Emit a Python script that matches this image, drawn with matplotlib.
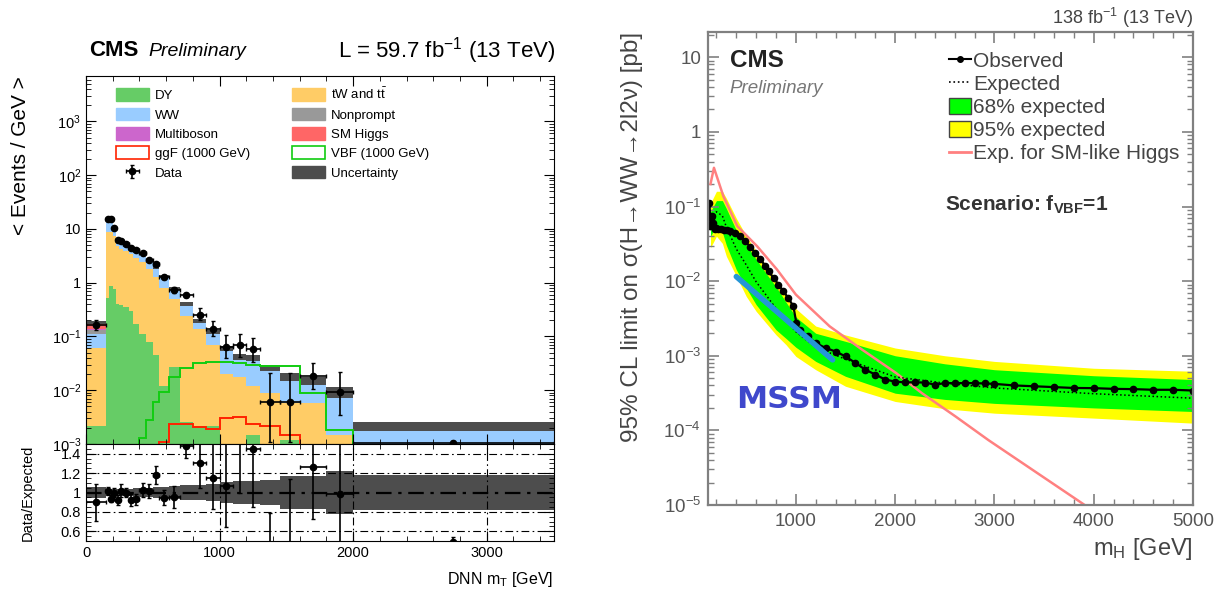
import numpy as np
import matplotlib
matplotlib.use('Agg')
import matplotlib.pyplot as plt
from matplotlib.ticker import LogLocator, MultipleLocator, FuncFormatter, NullFormatter
from matplotlib.patches import Patch
from matplotlib.lines import Line2D

plt.rcParams['font.family'] = ['Liberation Sans', 'DejaVu Sans']
plt.rcParams['mathtext.fontset'] = 'custom'
plt.rcParams['mathtext.rm'] = 'Liberation Sans'
plt.rcParams['mathtext.it'] = 'Liberation Sans:italic'
plt.rcParams['mathtext.bf'] = 'Liberation Sans:bold'
plt.rcParams['mathtext.default'] = 'regular'

# ---------------- left panel: DNN mT distribution (events / GeV) ----------------
edges = [0, 150, 175, 200, 225, 250, 275, 320, 355, 400, 450, 500, 550, 625, 700,
         800, 900, 1000, 1100, 1200, 1300, 1450, 1600, 1800, 2000, 3500]
dy = [0.0022, 0.52, 0.86, 0.75, 0.40, 0.38, 0.36, 0.30, 0.17, 0.11, 0.08, 0.046, 0.012,
      0.0275, 0.0026, 0.0022, 0.0022, 0.0003, 0.0004, 0.00145, 0.0003, 0.00117, 0.0003,
      0.0002, 0.0001]
top = [0.058, 8.4, 8.0, 6.6, 4.4, 3.9, 3.5, 3.1, 2.75, 2.3, 1.75, 1.25, 0.8, 0.46, 0.235,
       0.135, 0.068, 0.02, 0.0175, 0.0106, 0.0084, 0.0045, 0.0054, 0.00125, 0.0004]
ww = [0.05, 4.4, 5.6, 2.6, 1.5, 1.38, 1.15, 1.33, 1.25, 0.89, 0.75, 0.55, 0.49, 0.27, 0.155,
      0.053, 0.047, 0.038, 0.022, 0.026, 0.016, 0.0115, 0.0083, 0.0073, 0.0015]
nonprompt = [0.02, 0.6, 0.7, 0.35, 0.2, 0.18, 0.15, 0.13, 0.1, 0.08, 0.06, 0.045, 0.03, 0.018,
             0.01, 0.004, 0.003, 0.002, 0.0015, 0.0015, 0.001, 0.0006, 0.0005, 0.0003, 0.0001]
multiboson = [0.008, 0.4, 0.45, 0.15, 0.05, 0.03, 0.02, 0.02, 0.015, 0.012, 0.01, 0.008, 0.006,
              0.004, 0.002, 0.001, 0.0008, 0.0006, 0.0005, 0.0004, 0.0003, 0.0002, 0.0002,
              0.0001, 0.00003]
smhiggs = [0.045, 0.6, 0.6, 0.15, 0.05, 0.03, 0.02, 0.02, 0.01, 0.008, 0.005, 0.003, 0.002,
           0.001, 0.0005, 0.0002, 0.0001, 0.0001, 0.0001, 0.0001, 0.0001, 0.0001, 0.0001,
           0.0001, 0.00001]
ggf_1000 = [1e-5] * 12 + [0.0011, 0.0024, 0.0024, 0.0021, 0.0019, 0.003, 0.0032, 0.0024,
                          0.0022, 0.00146, 0.0006, 0.0004, 1e-5]
vbf_1000 = [1e-5] * 9 + [0.0013, 0.0028, 0.0061, 0.0094, 0.018, 0.0256, 0.0317, 0.034, 0.034,
                         0.032, 0.0295, 0.028, 0.028, 0.0087, 0.0018, 1e-5]
rel_unc = [0.06, 0.04, 0.04, 0.04, 0.04, 0.04, 0.04, 0.04, 0.045, 0.05, 0.05, 0.06, 0.06,
           0.07, 0.08, 0.08, 0.09, 0.11, 0.12, 0.12, 0.13, 0.17, 0.17, 0.22, 0.18]
data = [0.165, 15.2, 15.2, 10.6, 6.1, 6.0, 5.2, 4.5, 4.0, 3.5, 2.7, 2.25, 1.27, 0.745, 0.60,
        0.254, 0.139, 0.065, 0.068, 0.058, 0.0061, 0.0061, 0.0187, 0.0091, 0.00105]
data_up = [0.035, 0.6, 0.6, 0.5, 0.35, 0.4, 0.25, 0.3, 0.25, 0.25, 0.2, 0.18, 0.1, 0.09, 0.05,
           0.084, 0.057, 0.042, 0.042, 0.035, 0.0145, 0.0145, 0.013, 0.0124, 0.0001]
data_dn = [0.035, 0.6, 0.6, 0.5, 0.35, 0.4, 0.25, 0.3, 0.25, 0.25, 0.2, 0.18, 0.1, 0.09, 0.05,
           0.049, 0.039, 0.026, 0.026, 0.024, 0.005, 0.005, 0.008, 0.0057, 0.0001]

# ---------------- right panel: limits vs m_H ----------------
band_mass = [140, 200, 260, 300, 400, 500, 600, 700, 800, 900, 1000, 1200, 1500, 2000, 2500,
             3000, 4000, 5000]
exp_95_hi = [0.11, 0.16, 0.16, 0.129, 0.0697, 0.0404, 0.0251, 0.0163, 0.0106, 0.0068, 0.00428,
             0.0025, 0.0019, 0.00127, 0.001, 8.4e-4, 6.8e-4, 6.2e-4]
exp_68_hi = [0.085, 0.12, 0.12, 0.094, 0.048, 0.031, 0.0196, 0.0127, 0.0084, 0.00525, 0.0033,
             0.0020, 0.00156, 0.0010, 7.8e-4, 6.5e-4, 5.4e-4, 4.8e-4]
exp_median = [0.06, 0.085, 0.075, 0.053, 0.027, 0.0165, 0.0098, 0.0065, 0.0043, 0.003, 0.0021,
              0.0013, 9.0e-4, 5.2e-4, 4.3e-4, 3.7e-4, 3.1e-4, 2.7e-4]
exp_68_lo = [0.04, 0.055, 0.045, 0.0303, 0.01426, 0.0081, 0.00484, 0.00328, 0.00223, 0.00171,
             0.0013, 8.4e-4, 5.3e-4, 3.15e-4, 2.6e-4, 2.3e-4, 2.0e-4, 1.79e-4]
exp_95_lo = [0.028, 0.04, 0.032, 0.0215, 0.0117, 0.00625, 0.00394, 0.00274, 0.00191, 0.00141,
             9.8e-4, 6.5e-4, 3.9e-4, 2.44e-4, 1.95e-4, 1.7e-4, 1.46e-4, 1.25e-4]
obs_mass = [130, 140, 150, 160, 170, 185, 200, 220, 250, 280, 310, 340, 390, 440, 490, 540,
            590, 640, 690, 725, 775, 825, 875, 925, 975, 1005, 1040, 1120, 1200, 1300, 1400,
            1500, 1600, 1700, 1800, 1900, 2000, 2100, 2200, 2300, 2400, 2500, 2600, 2700,
            2800, 2900, 3000, 3200, 3400, 3600, 3800, 4000, 4200, 4400, 4600, 4800, 5000]
obs_limit = [0.11, 0.055, 0.07, 0.075, 0.06, 0.05, 0.052, 0.05, 0.05, 0.049, 0.048, 0.0467,
             0.0435, 0.040, 0.0342, 0.0288, 0.0239, 0.0199, 0.0161, 0.0136, 0.011, 0.009,
             0.0073, 0.0059, 0.0046, 0.00274, 0.00223, 0.00182, 0.00148, 0.00127, 0.00114,
             9.8e-4, 8.0e-4, 6.5e-4, 5.6e-4, 4.8e-4, 4.5e-4, 4.4e-4, 4.4e-4, 4.38e-4, 4.1e-4,
             4.3e-4, 4.3e-4, 4.3e-4, 4.3e-4, 4.25e-4, 4.2e-4, 4.0e-4, 3.9e-4, 3.8e-4, 3.7e-4,
             3.68e-4, 3.6e-4, 3.57e-4, 3.5e-4, 3.5e-4, 3.42e-4]
sm_mass = [140, 175, 270, 410, 610, 810, 1000, 1340, 1670, 2010, 2270, 2610, 2940, 3890, 4000]
sm_limit = [0.2, 0.33, 0.137, 0.0545, 0.0293, 0.0143, 0.0066, 0.00248, 0.0012, 5.86e-4,
            3.15e-4, 1.53e-4, 7.4e-5, 1.04e-5, 8.2e-6]
mssm_mass = [400, 1370]
mssm_limit = [0.0115, 0.00088]


def root_log(v, pos):
    e = int(round(np.log10(v)))
    if abs(v - 10.0 ** e) > 1e-6 * 10.0 ** e:
        return ''
    if e == 0:
        return '1'
    if e == 1:
        return '10'
    return r'$10^{%d}$' % e


fig = plt.figure(figsize=(12.22, 5.90), dpi=100)
W, H = 1222.0, 590.0

# ---------- left: main panel ----------
axm = fig.add_axes([86 / W, 1 - 444 / H, 467.5 / W, 368 / H])
axr = fig.add_axes([86 / W, 1 - 541 / H, 467.5 / W, 97 / H])

e = np.array(edges, dtype=float)
centers = 0.5 * (e[1:] + e[:-1])
halfw = 0.5 * np.diff(e)

layers = [(dy, '#66cc66'), (top, '#ffcc66'), (ww, '#99ccff'), (nonprompt, '#999999'),
          (multiboson, '#cc66cc'), (smhiggs, '#ff6666')]
base = np.full(len(dy), 1e-6)
for vals, col in layers:
    axm.stairs(base + np.array(vals), e, baseline=base, fill=True, color=col, lw=0)
    base = base + np.array(vals)
total = base
unc = np.array(rel_unc)
axm.stairs(total * (1 + unc), e, baseline=total * (1 - unc), fill=True, color='#4d4d4d', lw=0)
axm.stairs(ggf_1000, e, baseline=None, color='#ff2200', lw=1.4)
axm.stairs(vbf_1000, e, baseline=None, color='#11cc11', lw=1.4)
dat = axm.errorbar(centers, data, xerr=halfw, yerr=[data_dn, data_up], fmt='o', color='k',
                   ms=4.5, elinewidth=1.2, capsize=1.5, zorder=5)

axm.set_yscale('log')
axm.set_xlim(0, 3500)
axm.set_ylim(1e-3, 7e3)
axm.yaxis.set_major_locator(LogLocator(base=10, numticks=20))
axm.yaxis.set_minor_locator(LogLocator(base=10, subs=np.arange(2, 10), numticks=20))
axm.yaxis.set_major_formatter(FuncFormatter(root_log))
axm.yaxis.set_minor_formatter(NullFormatter())
axm.xaxis.set_major_locator(MultipleLocator(1000))
axm.xaxis.set_minor_locator(MultipleLocator(200))
axm.tick_params(which='both', direction='in', top=True, right=True, labelbottom=False,
                labelsize=10.5)
axm.tick_params(which='major', length=7)
axm.tick_params(which='minor', length=3.5)
axm.set_ylabel('< Events / GeV >', fontsize=15, loc='top')
axm.yaxis.set_label_coords(-0.12, 1.0)

handles = [Patch(color='#66cc66'), Patch(color='#99ccff'), Patch(color='#cc66cc'),
           Patch(facecolor='white', edgecolor='#ff2200', lw=1.2), dat,
           Patch(color='#ffcc66'), Patch(color='#999999'), Patch(color='#ff6666'),
           Patch(facecolor='white', edgecolor='#11cc11', lw=1.2), Patch(color='#4d4d4d')]
labels = ['DY', 'WW', 'Multiboson', 'ggF (1000 GeV)', 'Data',
          r'tW and t$\bar{t}$', 'Nonprompt', 'SM Higgs', 'VBF (1000 GeV)', 'Uncertainty']
axm.legend(handles, labels, ncol=2, loc='upper left', bbox_to_anchor=(0.064, 0.971),
           frameon=False, fontsize=9.5, handlelength=2.5, handleheight=1.1,
           labelspacing=0.42, handletextpad=0.45, columnspacing=3.2, borderpad=0,
           borderaxespad=0)

fig.text(89 / W, 1 - 56 / H, 'CMS', weight='bold', fontsize=16, va='baseline')
fig.text(148 / W, 1 - 56 / H, 'Preliminary', style='italic', fontsize=14, va='baseline')
fig.text(555 / W, 1 - 57 / H, 'L = 59.7 fb$^{-1}$ (13 TeV)', ha='right', fontsize=16,
         va='baseline')

# ---------- left: ratio panel ----------
tot = np.array(total)
d = np.array(data)
axr.stairs(1 + unc, e, baseline=1 - unc, fill=True, color='#4d4d4d', lw=0)
dash = (0, (7, 3, 1.5, 3))
for yv in [0.6, 0.8, 1.2, 1.4]:
    axr.axhline(yv, color='k', lw=0.8, ls=dash, zorder=3)
axr.axhline(1.0, color='k', lw=1.6, ls=dash, zorder=3)
for xv in [1000, 2000, 3000]:
    axr.axvline(xv, color='k', lw=0.8, ls=dash, zorder=3)
axr.errorbar(centers, d / tot, xerr=halfw,
             yerr=[np.array(data_dn) / tot, np.array(data_up) / tot],
             fmt='o', color='k', ms=4.5, elinewidth=1.2, capsize=1.5, zorder=5)
axr.set_xlim(0, 3500)
axr.set_ylim(0.5, 1.5)
axr.yaxis.set_major_locator(MultipleLocator(0.2))
axr.yaxis.set_minor_locator(MultipleLocator(0.05))
axr.yaxis.set_major_formatter(FuncFormatter(lambda v, p: '%g' % round(v, 2)))
axr.xaxis.set_major_locator(MultipleLocator(1000))
axr.xaxis.set_minor_locator(MultipleLocator(200))
axr.tick_params(which='both', direction='in', top=True, right=True, labelsize=10.5)
axr.tick_params(which='major', length=7)
axr.tick_params(which='minor', length=3.5)
axr.set_ylabel('Data/Expected', fontsize=10.5)
axr.yaxis.set_label_coords(-0.11, 0.5)
axr.set_xlabel('DNN m$_T$ [GeV]', fontsize=11.5, loc='right', labelpad=7)

# ---------- right panel ----------
axl = fig.add_axes([708 / W, 1 - 505 / H, 485 / W, 473.3 / H])
axl.fill_between(band_mass, exp_95_lo, exp_95_hi, color='#ffff00', lw=0)
axl.fill_between(band_mass, exp_68_lo, exp_68_hi, color='#00ff00', lw=0)
axl.plot(sm_mass, sm_limit, color='#ff8080', lw=1.8)
axl.plot(band_mass, exp_median, color='k', ls=':', lw=1.1)
axl.plot(obs_mass, obs_limit, color='k', lw=1.6, marker='o', ms=4.5)
axl.plot(mssm_mass, mssm_limit, color='#2596d6', lw=4, solid_capstyle='round')

axl.set_yscale('log')
axl.set_xlim(115, 5000)
axl.set_ylim(1e-5, 22)
axl.yaxis.set_major_locator(LogLocator(base=10, numticks=20))
axl.yaxis.set_minor_locator(LogLocator(base=10, subs=np.arange(2, 10), numticks=20))
axl.yaxis.set_major_formatter(FuncFormatter(root_log))
axl.yaxis.set_minor_formatter(NullFormatter())
axl.xaxis.set_major_locator(MultipleLocator(1000))
axl.xaxis.set_minor_locator(MultipleLocator(200))
axl.tick_params(which='both', direction='in', top=True, right=True, color='#808080',
                labelcolor='#555555', labelsize=13.5)
axl.tick_params(which='major', length=8, width=1.2)
axl.tick_params(which='minor', length=4, width=1.0)
axl.tick_params(axis='x', pad=6)
axl.tick_params(axis='y', pad=5)
for sp in axl.spines.values():
    sp.set_color('#808080')
    sp.set_linewidth(1.6)
axl.set_xlabel('m$_H$ [GeV]', fontsize=17, loc='right', color='#444444', labelpad=4)
axl.set_ylabel('95% CL limit on σ(H→WW→2l2ν) [pb]', fontsize=17.5, loc='top',
               color='#444444')
axl.yaxis.set_label_coords(-0.135, 1.0)

lh = [Line2D([], [], color='k', lw=1.5, marker='o', ms=4),
      Line2D([], [], color='k', ls=':', lw=1.2),
      Patch(facecolor='#00ff00', edgecolor='#444444'),
      Patch(facecolor='#ffff00', edgecolor='#444444'),
      Line2D([], [], color='#ff8080', lw=2)]
ll = ['Observed', 'Expected', '68% expected', '95% expected', 'Exp. for SM-like Higgs']
axl.legend(lh, ll, loc='upper left', bbox_to_anchor=(0.497, 0.958), frameon=False,
           fontsize=15, handlelength=1.05, handleheight=0.85, labelspacing=0.17,
           handletextpad=0.1, borderpad=0, borderaxespad=0, labelcolor='#444444')

axl.text(0.045, 0.94, 'CMS', transform=axl.transAxes, weight='bold', fontsize=17.5,
         va='center', color='#222222')
axl.text(0.045, 0.881, 'Preliminary', transform=axl.transAxes, style='italic',
         fontsize=13.5, va='center', color='#777777')
axl.text(0.489, 0.634, r'Scenario: f$_{\mathbf{VBF}}$=1', transform=axl.transAxes,
         weight='bold', fontsize=15, va='center', color='#333333')
axl.text(0.059, 0.205, 'MSSM', transform=axl.transAxes, family='DejaVu Sans',
         weight='bold', fontsize=22.5, va='baseline', color='#3f48cc')
fig.text(1193 / W, 1 - 24 / H, '138 fb$^{-1}$ (13 TeV)', ha='right', fontsize=13,
         color='#444444', va='baseline')

fig.savefig('out.png', dpi=100, facecolor='white')
